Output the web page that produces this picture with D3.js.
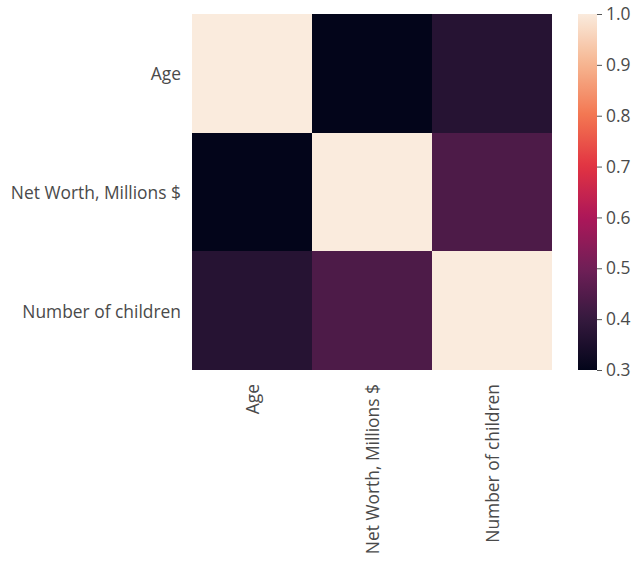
<!DOCTYPE html>
<html>
<head>
<meta charset="utf-8">
<script src="https://cdn.jsdelivr.net/npm/d3@7"></script>
<style>
  body { margin: 0; background: #fff; }
  text { font-family: "Open Sans", sans-serif; }
</style>
</head>
<body>
<div id="chart"></div>
<script>
// correlation matrix
const labels = ["Age", "Net Worth, Millions $", "Number of children"];
const corr = [
  [1.00, 0.30, 0.37],
  [0.30, 1.00, 0.44],
  [0.37, 0.44, 1.00]
];
const cbarTicks = [0.3, 0.4, 0.5, 0.6, 0.7, 0.8, 0.9, 1.0];

// seaborn "rocket" sampled at 0, 1/7, ..., 1
const rocketStops = ["#03051a", "#35193e", "#701f57", "#ad1759", "#e13342", "#f37651", "#f6b48f", "#faebdd"];
const rocket = d3.piecewise(d3.interpolateRgb, rocketStops);

const width = 636, height = 562;
const hm = {x0: 192, x1: 552, y0: 14, y1: 370};
const cb = {x0: 578, x1: 597};
const fontSize = 17.4, textCol = "#4a4a4a";

const svg = d3.select("#chart").append("svg")
  .attr("width", width).attr("height", height);

const x = d3.scaleBand().domain(labels).range([hm.x0, hm.x1]);
const y = d3.scaleBand().domain(labels).range([hm.y0, hm.y1]);
const color = d3.scaleSequential(rocket).domain([0.3, 1.0]);

const cells = [];
corr.forEach((row, i) => row.forEach((v, j) => cells.push({r: labels[i], c: labels[j], v})));

svg.append("g").selectAll("rect")
  .data(cells).enter().append("rect")
  .attr("x", d => x(d.c))
  .attr("y", d => y(d.r))
  .attr("width", x.bandwidth())
  .attr("height", y.bandwidth())
  .attr("fill", d => color(d.v))
  .attr("shape-rendering", "crispEdges");

// y labels
svg.append("g").selectAll("text")
  .data(labels).enter().append("text")
  .attr("x", hm.x0 - 11)
  .attr("y", d => y(d) + y.bandwidth() / 2)
  .attr("text-anchor", "end")
  .attr("dominant-baseline", "central")
  .attr("font-size", fontSize)
  .attr("fill", textCol)
  .text(d => d);

// x labels, rotated
svg.append("g").selectAll("text")
  .data(labels).enter().append("text")
  .attr("transform", d => `translate(${x(d) + x.bandwidth() / 2},${hm.y1 + 14}) rotate(-90)`)
  .attr("text-anchor", "end")
  .attr("dominant-baseline", "central")
  .attr("font-size", fontSize)
  .attr("fill", textCol)
  .text(d => d);

// colorbar
const defs = svg.append("defs");
const grad = defs.append("linearGradient").attr("id", "cbar")
  .attr("x1", 0).attr("y1", 1).attr("x2", 0).attr("y2", 0);
d3.range(0, 1.0001, 0.02).forEach(t => {
  grad.append("stop").attr("offset", t).attr("stop-color", rocket(t));
});
svg.append("rect")
  .attr("x", cb.x0).attr("y", hm.y0)
  .attr("width", cb.x1 - cb.x0).attr("height", hm.y1 - hm.y0)
  .attr("fill", "url(#cbar)");

const cy = d3.scaleLinear().domain([0.3, 1.0]).range([hm.y1, hm.y0]);
const axis = svg.append("g")
  .attr("transform", `translate(${cb.x1},0)`)
  .call(d3.axisRight(cy).tickValues(cbarTicks).tickFormat(d3.format(".1f")).tickSize(5).tickPadding(4));
axis.select(".domain").remove();
axis.selectAll(".tick line").attr("stroke", "#555");
axis.selectAll(".tick text")
  .attr("font-size", fontSize)
  .attr("font-family", "Open Sans, sans-serif")
  .attr("fill", textCol);
</script>
</body>
</html>
